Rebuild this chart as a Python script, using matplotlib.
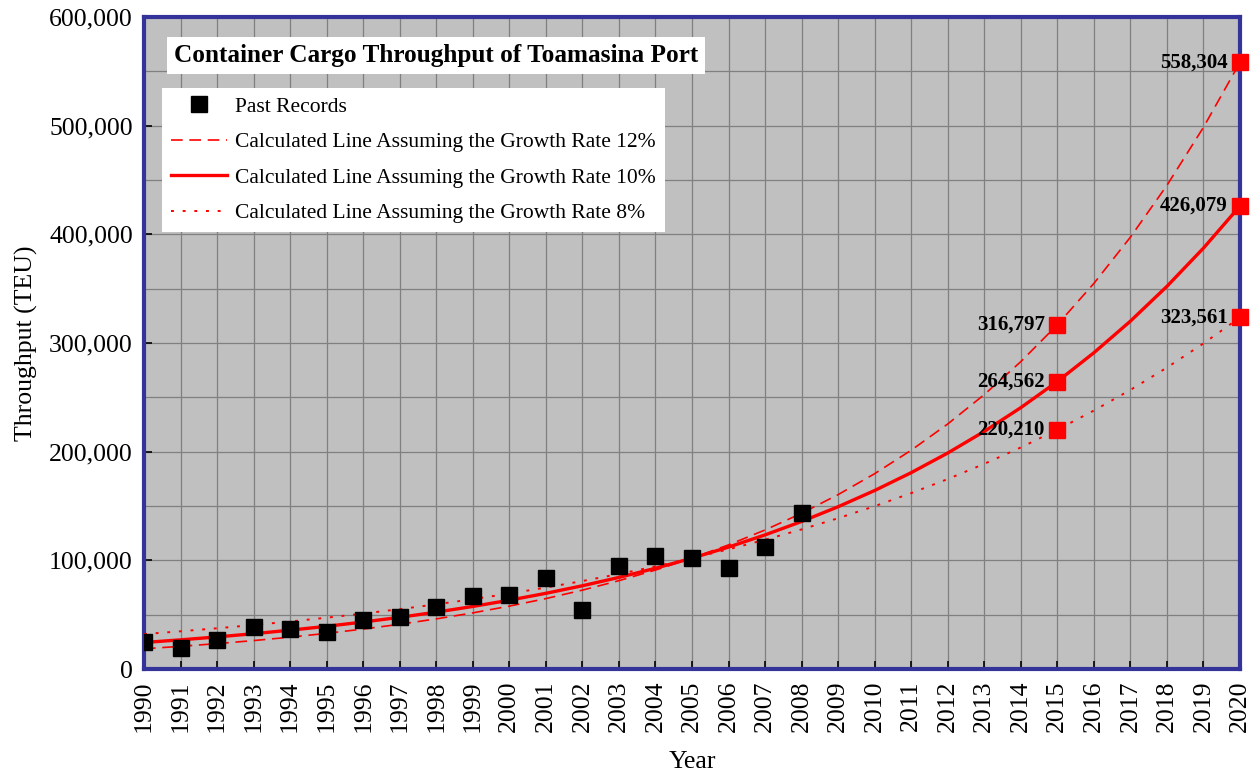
import matplotlib
matplotlib.use("Agg")
import matplotlib.pyplot as plt
from matplotlib.ticker import MultipleLocator, FuncFormatter

plt.rcParams['font.family'] = ['Liberation Serif', 'DejaVu Serif']

years = list(range(1990, 2021))
past_years = list(range(1990, 2009))
past_teu = [24600, 19000, 26400, 38400, 36800, 34000, 45100, 47600, 57100, 67200,
            68100, 84000, 54000, 95100, 104300, 102100, 92700, 112600, 143800]

# calculated lines, 1990..2020
rate12 = [18635, 20871, 23376, 26181, 29322, 32841, 36782, 41196, 46139, 51676,
          57877, 64823, 72602, 81314, 91071, 102000, 114240, 127949, 143303, 160499,
          179759, 201330, 225490, 252548, 282854, 316797, 354813, 397390, 445077, 498486,
          558304]
rate10 = [24418, 26860, 29546, 32501, 35751, 39326, 43258, 47584, 52342, 57576,
          63334, 69667, 76634, 84298, 92727, 102000, 112200, 123420, 135762, 149338,
          164272, 180699, 198769, 218646, 240511, 264562, 291018, 320120, 352132, 387345,
          426079]
rate8 = [32155, 34727, 37505, 40506, 43746, 47246, 51025, 55107, 59516, 64277,
         69420, 74973, 80971, 87449, 94444, 102000, 110160, 118973, 128491, 138770,
         149871, 161861, 174810, 188795, 203899, 220210, 237827, 256853, 277402, 299594,
         323561]

mark_years = [2015, 2020]
labels = ["Past Records",
          "Calculated Line Assuming the Growth Rate 12%",
          "Calculated Line Assuming the Growth Rate 10%",
          "Calculated Line Assuming the Growth Rate 8%"]

fig = plt.figure(figsize=(12.51, 7.73), dpi=100)
ax = fig.add_axes([0.1151, 0.1345, 0.8761, 0.8435])
ax.set_facecolor('#C0C0C0')

ax.plot(years, rate12, color='red', lw=1.2, dashes=(7, 4), label=labels[1], zorder=3)
ax.plot(years, rate10, color='red', lw=2.4, label=labels[2], zorder=3)
ax.plot(years, rate8, color='red', lw=1.4, dashes=(1.5, 4.5), label=labels[3], zorder=3)
ax.plot(past_years, past_teu, 's', color='black', ms=11, label=labels[0], zorder=4)

for series in (rate12, rate10, rate8):
    for y in mark_years:
        v = series[years.index(y)]
        ax.plot(y, v, 's', color='red', ms=11, clip_on=False, zorder=5)
        ax.annotate(f"{v:,}", (y, v), xytext=(-9, 0), textcoords='offset points',
                    ha='right', va='center', fontsize=15, fontweight='bold', zorder=6)

ax.set_xlim(1990, 2020)
ax.set_ylim(0, 600000)
ax.set_xticks(years)
ax.set_xticklabels([str(y) for y in years], rotation=90)
ax.yaxis.set_major_locator(MultipleLocator(100000))
ax.yaxis.set_minor_locator(MultipleLocator(50000))
ax.yaxis.set_major_formatter(FuncFormatter(lambda v, p: f"{int(v):,}"))
ax.tick_params(axis='both', which='major', direction='in', length=6, width=1.2,
               labelsize=18.5, pad=8)
ax.tick_params(axis='y', which='minor', length=0)
ax.grid(True, which='both', color='#808080', lw=0.9)
ax.set_axisbelow(True)
for s in ax.spines.values():
    s.set_color('#333399')
    s.set_linewidth(3)

ax.set_xlabel("Year", fontsize=18.5, labelpad=14)
ax.set_ylabel("Throughput (TEU)", fontsize=18.5, labelpad=8)

ax.text(0.0274, 0.941, "Container Cargo Throughput of Toamasina Port", transform=ax.transAxes,
        fontsize=18.2, fontweight='bold', va='center', ha='left',
        bbox=dict(facecolor='white', edgecolor='none', pad=5), zorder=7)

handles, labs = ax.get_legend_handles_labels()
order = [3, 0, 1, 2]
leg = ax.legend([handles[i] for i in order], [labs[i] for i in order],
                loc='upper left', bbox_to_anchor=(0.0164, 0.891), fontsize=15.5,
                frameon=True, fancybox=False, handlelength=2.6, handletextpad=0.4,
                labelspacing=0.72, borderpad=0.4, borderaxespad=0)
leg.get_frame().set_facecolor('white')
leg.get_frame().set_edgecolor('none')
leg.get_frame().set_alpha(1)
leg.set_zorder(7)

fig.savefig("out.png", dpi=100)
